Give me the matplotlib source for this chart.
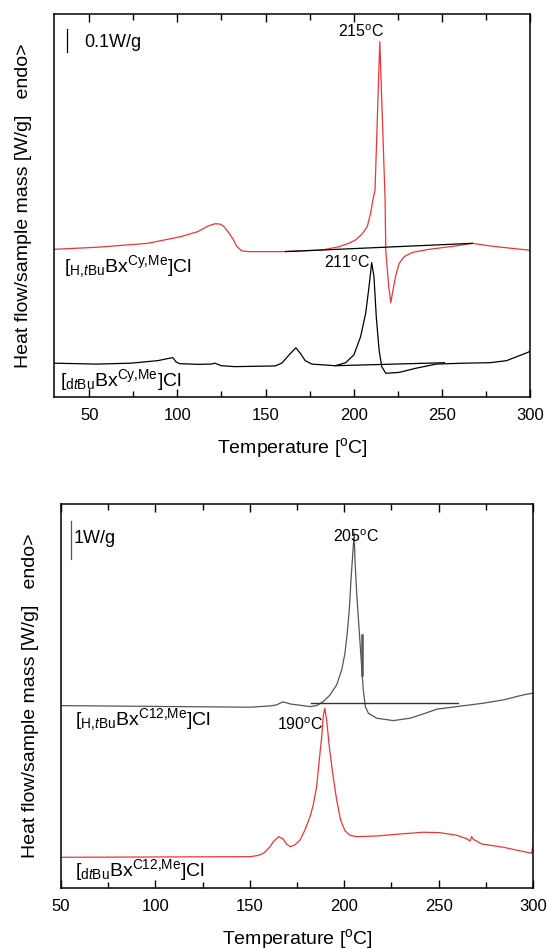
import matplotlib
matplotlib.use("Agg")
import matplotlib.pyplot as plt
from matplotlib.ticker import MultipleLocator

plt.rcParams['font.family'] = ['Liberation Sans', 'DejaVu Sans']
plt.rcParams['mathtext.fontset'] = 'custom'
plt.rcParams['mathtext.rm'] = 'Liberation Sans'
plt.rcParams['mathtext.it'] = 'Liberation Sans:italic'
plt.rcParams['mathtext.bf'] = 'Liberation Sans:bold'

# --- top panel: Cy,Me compounds (heat flow in W/g, with offset) ---
t_red_top = [30, 54.5, 83.1, 101.9, 111.6, 117.3, 121.2, 124.0, 125.9, 128.7, 131.6,
             133.5, 136.3, 140.2, 159.0, 182.0, 191.5, 197.2, 201.1, 204.8, 207.7,
             209.6, 210.9, 212.1, 214.8, 217.8, 218.2, 219.8, 221.0, 222.3, 223.9,
             225.8, 228.6, 233.4, 242.9, 258.1, 267.3, 277.1, 288.6, 298.8, 300]
hf_red_top = [0.642, 0.651, 0.668, 0.697, 0.719, 0.743, 0.753, 0.752, 0.745, 0.719, 0.686,
              0.657, 0.636, 0.632, 0.632, 0.639, 0.653, 0.668, 0.683, 0.709, 0.741,
              0.799, 0.857, 0.900, 1.545, 0.857, 0.635, 0.487, 0.410, 0.465, 0.530,
              0.581, 0.610, 0.629, 0.642, 0.657, 0.668, 0.657, 0.647, 0.639, 0.639]
base_red_top_t = [161.3, 267.3]
base_red_top_hf = [0.632, 0.668]

t_blk_top = [30, 54.5, 73.5, 88.8, 94.5, 97.4, 99.2, 101.2, 111.6, 119.2, 121.2,
             124.9, 132.6, 155.4, 159.2, 163.0, 165.8, 167.2, 169.7, 172.5, 176.3,
             189.6, 195.4, 200.1, 203.9, 206.8, 208.7, 210.2, 211.5, 212.8, 214.4,
             215.9, 218.2, 225.8, 235.3, 246.7, 261.9, 277.1, 286.7, 298.8, 300]
hf_blk_top = [0.147, 0.143, 0.147, 0.158, 0.167, 0.171, 0.153, 0.145, 0.142, 0.143, 0.147,
              0.136, 0.132, 0.135, 0.147, 0.180, 0.203, 0.214, 0.190, 0.158, 0.143,
              0.136, 0.149, 0.183, 0.262, 0.364, 0.480, 0.584, 0.523, 0.349, 0.204,
              0.132, 0.103, 0.107, 0.125, 0.143, 0.147, 0.149, 0.158, 0.194, 0.200]
base_blk_top_t = [189.6, 251.5]
base_blk_top_hf = [0.136, 0.149]

# --- bottom panel: C12,Me compounds ---
t_gray = [50, 150.1, 160.7, 164.2, 167.4, 169.7, 171.3, 181.9, 185.4, 188.9, 192.5,
          196.0, 198.7, 200.4, 201.6, 202.7, 203.6, 205.3, 205.7, 206.6, 207.8,
          209.0, 210.1, 211.2, 212.8, 217.2, 226.0, 234.9, 241.9, 249.0, 259.6,
          273.7, 284.3, 294.9, 299.8, 300]
hf_gray = [4.797, 4.755, 4.789, 4.816, 4.895, 4.868, 4.842, 4.771, 4.797, 4.903, 5.079,
           5.342, 5.737, 6.176, 6.703, 7.316, 8.105, 9.342, 8.632, 7.755, 6.876,
           6.000, 5.211, 4.771, 4.597, 4.466, 4.403, 4.466, 4.579, 4.703, 4.771,
           4.861, 4.947, 5.079, 5.124, 5.124]
mark_gray_t = [209.3, 209.3]
mark_gray_hf = [6.658, 5.605]
base_gray_t = [182.4, 260.4]
base_gray_hf = [4.855, 4.855]

t_red_bot = [50, 150.1, 154.3, 157.2, 159.1, 160.7, 162.8, 165.5, 167.6, 169.5, 171.3,
             173.9, 176.6, 179.2, 181.9, 183.6, 185.4, 186.8, 188.1, 188.9, 189.7,
             190.7, 192.1, 193.9, 196.0, 198.1, 200.4, 203.1, 206.6, 217.2, 229.6,
             241.9, 250.7, 259.6, 264.9, 266.6, 267.5, 268.4, 272.8, 284.3, 299.3, 299.8]
hf_red_bot = [0.808, 0.824, 0.855, 0.913, 1.000, 1.087, 1.237, 1.350, 1.289, 1.158, 1.087,
              1.132, 1.263, 1.526, 1.876, 2.184, 2.666, 3.368, 3.982, 4.508, 4.729,
              4.421, 3.718, 3.018, 2.316, 1.789, 1.508, 1.387, 1.350, 1.368, 1.421,
              1.466, 1.455, 1.387, 1.297, 1.237, 1.350, 1.282, 1.158, 1.071, 0.913, 1.071]

red = '#f03434'
gray = '#555555'

fig = plt.figure(figsize=(5.47, 9.49), dpi=100)
ax1 = fig.add_axes([54 / 547, 1 - 397 / 949, 476 / 547, 383 / 949])
ax2 = fig.add_axes([61 / 547, 1 - 888 / 949, 472 / 547, 384 / 949])

ax1.plot(t_red_top, hf_red_top, color=red, lw=0.9)
ax1.plot(base_red_top_t, base_red_top_hf, color='black', lw=0.9)
ax1.plot(t_blk_top, hf_blk_top, color='black', lw=0.9)
ax1.plot(base_blk_top_t, base_blk_top_hf, color='black', lw=0.9)
ax1.set_xlim(30, 300)
ax1.set_ylim(0, 1.665)
ax1.plot([37.4, 37.4], [1.5, 1.6], color='black', lw=0.9)
ax1.text(47.1, 1.543, '0.1W/g', fontsize=13, va='center', ha='left')
ax1.text(204.1, 1.588, r'215$^{\mathrm{o}}$C', fontsize=11.5, va='center', ha='center')
ax1.text(209.6, 0.584, r'211$^{\mathrm{o}}$C', fontsize=11.5, va='center', ha='right')
ax1.text(35.5, 0.567, r'[$_{\mathrm{H{,}}\mathit{t}\mathrm{Bu}}$Bx$^{\mathrm{Cy{,}Me}}$]Cl',
         fontsize=14, va='center', ha='left')
ax1.text(33.6, 0.074, r'[$_{\mathrm{d}\mathit{t}\mathrm{Bu}}$Bx$^{\mathrm{Cy{,}Me}}$]Cl',
         fontsize=14, va='center', ha='left')

ax2.plot(t_gray, hf_gray, color=gray, lw=0.9)
ax2.plot(mark_gray_t, mark_gray_hf, color=gray, lw=1.8)
ax2.plot(base_gray_t, base_gray_hf, color='#333333', lw=1.0)
ax2.plot(t_red_bot, hf_red_bot, color=red, lw=0.9)
ax2.set_xlim(50, 300)
ax2.set_ylim(0, 10.1)
ax2.plot([55.2, 55.2], [8.66, 9.66], color=gray, lw=0.9)
ax2.text(56.9, 9.18, '1W/g', fontsize=13, va='center', ha='left')
ax2.text(206.2, 9.245, r'205$^{\mathrm{o}}$C', fontsize=11.5, va='center', ha='center')
ax2.text(164.4, 4.289, r'190$^{\mathrm{o}}$C', fontsize=11.5, va='center', ha='left')
ax2.text(57.4, 4.42, r'[$_{\mathrm{H{,}}\mathit{t}\mathrm{Bu}}$Bx$^{\mathrm{C12{,}Me}}$]Cl',
         fontsize=14, va='center', ha='left')
ax2.text(57.4, 0.474, r'[$_{\mathrm{d}\mathit{t}\mathrm{Bu}}$Bx$^{\mathrm{C12{,}Me}}$]Cl',
         fontsize=14, va='center', ha='left')

for ax in (ax1, ax2):
    ax.xaxis.set_major_locator(MultipleLocator(50))
    ax.xaxis.set_minor_locator(MultipleLocator(25))
    ax.tick_params(axis='x', which='both', direction='in', top=True, bottom=True,
                   labelsize=12, pad=8)
    ax.tick_params(axis='x', which='major', length=6, width=1)
    ax.tick_params(axis='x', which='minor', length=4, width=1)
    ax.tick_params(axis='y', left=False, right=False, labelleft=False)
    for s in ax.spines.values():
        s.set_linewidth(1.1)
    ax.set_xlabel(r'Temperature [$^{\mathrm{o}}$C]', fontsize=14, labelpad=9)
    ax.set_ylabel('Heat flow/sample mass [W/g]   endo>', fontsize=14, labelpad=16)

fig.savefig('out.png', dpi=100)
